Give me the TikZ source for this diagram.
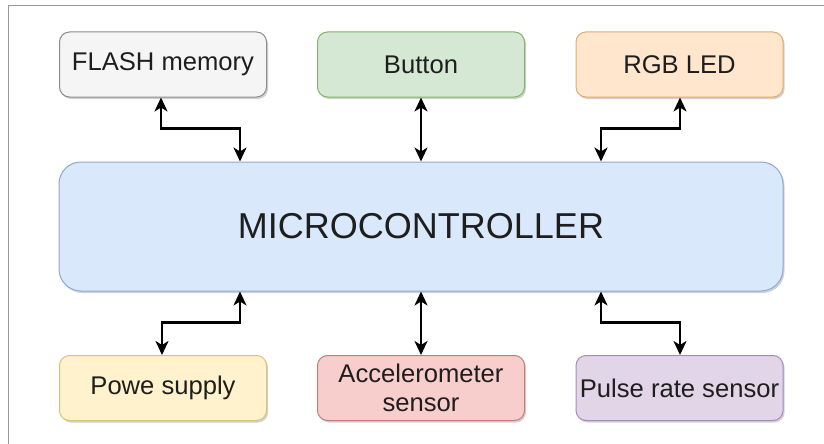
\documentclass[tikz,border=0pt]{standalone}
\usepackage{fontspec}
\setmainfont{Liberation Sans}
\usetikzlibrary{arrows.meta,shadows}

\definecolor{txt}{HTML}{1E1E1E}
\definecolor{frameline}{HTML}{999999}
\definecolor{grayfill}{HTML}{F5F5F5}\definecolor{graydraw}{HTML}{8C8C8C}
\definecolor{greenfill}{HTML}{D5E8D4}\definecolor{greendraw}{HTML}{82B366}
\definecolor{orangefill}{HTML}{FFE6CC}\definecolor{orangedraw}{HTML}{E0AE6A}
\definecolor{bluefill}{HTML}{DAE8FC}\definecolor{bluedraw}{HTML}{8EA8D4}
\definecolor{yellowfill}{HTML}{FFF2CC}\definecolor{yellowdraw}{HTML}{D9C27A}
\definecolor{redfill}{HTML}{F8CECC}\definecolor{reddraw}{HTML}{C87A77}
\definecolor{purplefill}{HTML}{E1D5E7}\definecolor{purpledraw}{HTML}{A68DB8}

\tikzset{
  block/.style={draw, line width=1pt, rounded corners=10pt, align=center,
    text=txt, font=\fontsize{25.6}{29}\selectfont,
    minimum width=207pt, minimum height=65pt, inner sep=0pt,
    drop shadow={shadow xshift=1.5pt, shadow yshift=-2pt, opacity=0.18, fill=black}},
  mcu/.style={block, rounded corners=22pt, minimum width=724pt, minimum height=129pt,
    font=\fontsize{36}{40}\selectfont},
  tip/.tip={Stealth[length=14pt,width=13pt,inset=4pt]},
  link/.style={line width=2.2pt, black, tip-tip}
}

\begin{document}
\begin{tikzpicture}[x=1pt,y=-1pt]
  \useasboundingbox (0,0) rectangle (824,444);
  \fill[white] (0,0) rectangle (824,444);
  % frame edges
  \draw[frameline, line width=1pt] (8,444) -- (8,6) -- (824,6);

  % top row
  \node[block, fill=grayfill, draw=graydraw]     (flash)  at (163,64.5)   {FLASH memory};
  \node[block, fill=greenfill, draw=greendraw]   (button) at (421,64.5)   {Button};
  \node[block, fill=orangefill, draw=orangedraw] (led)    at (679.5,64.5) {RGB LED};

  % controller
  \node[mcu, fill=bluefill, draw=bluedraw] (mcu) at (421,226.5) {MICROCONTROLLER};

  % bottom row
  \node[block, fill=yellowfill, draw=yellowdraw] (power) at (163,388)   {Powe supply};
  \node[block, fill=redfill, draw=reddraw]       (accel) at (421,388)   {Accelerometer\\sensor};
  \node[block, fill=purplefill, draw=purpledraw] (pulse) at (679.5,388) {Pulse rate sensor};

  % connectors
  \draw[link] ([xshift=-2pt]flash.south) -- ++(0,31) -| ([xshift=-181pt]mcu.north);
  \draw[link] (button.south) -- (mcu.north);
  \draw[link] ([xshift=0.5pt]led.south) -- ++(0,31) -| ([xshift=180pt]mcu.north);
  \draw[link] ([xshift=-181pt]mcu.south) -- ++(0,31) -| ([xshift=-1pt]power.north);
  \draw[link] (mcu.south) -- (accel.north);
  \draw[link] ([xshift=180pt]mcu.south) -- ++(0,31) -| ([xshift=0.5pt]pulse.north);
\end{tikzpicture}
\end{document}
